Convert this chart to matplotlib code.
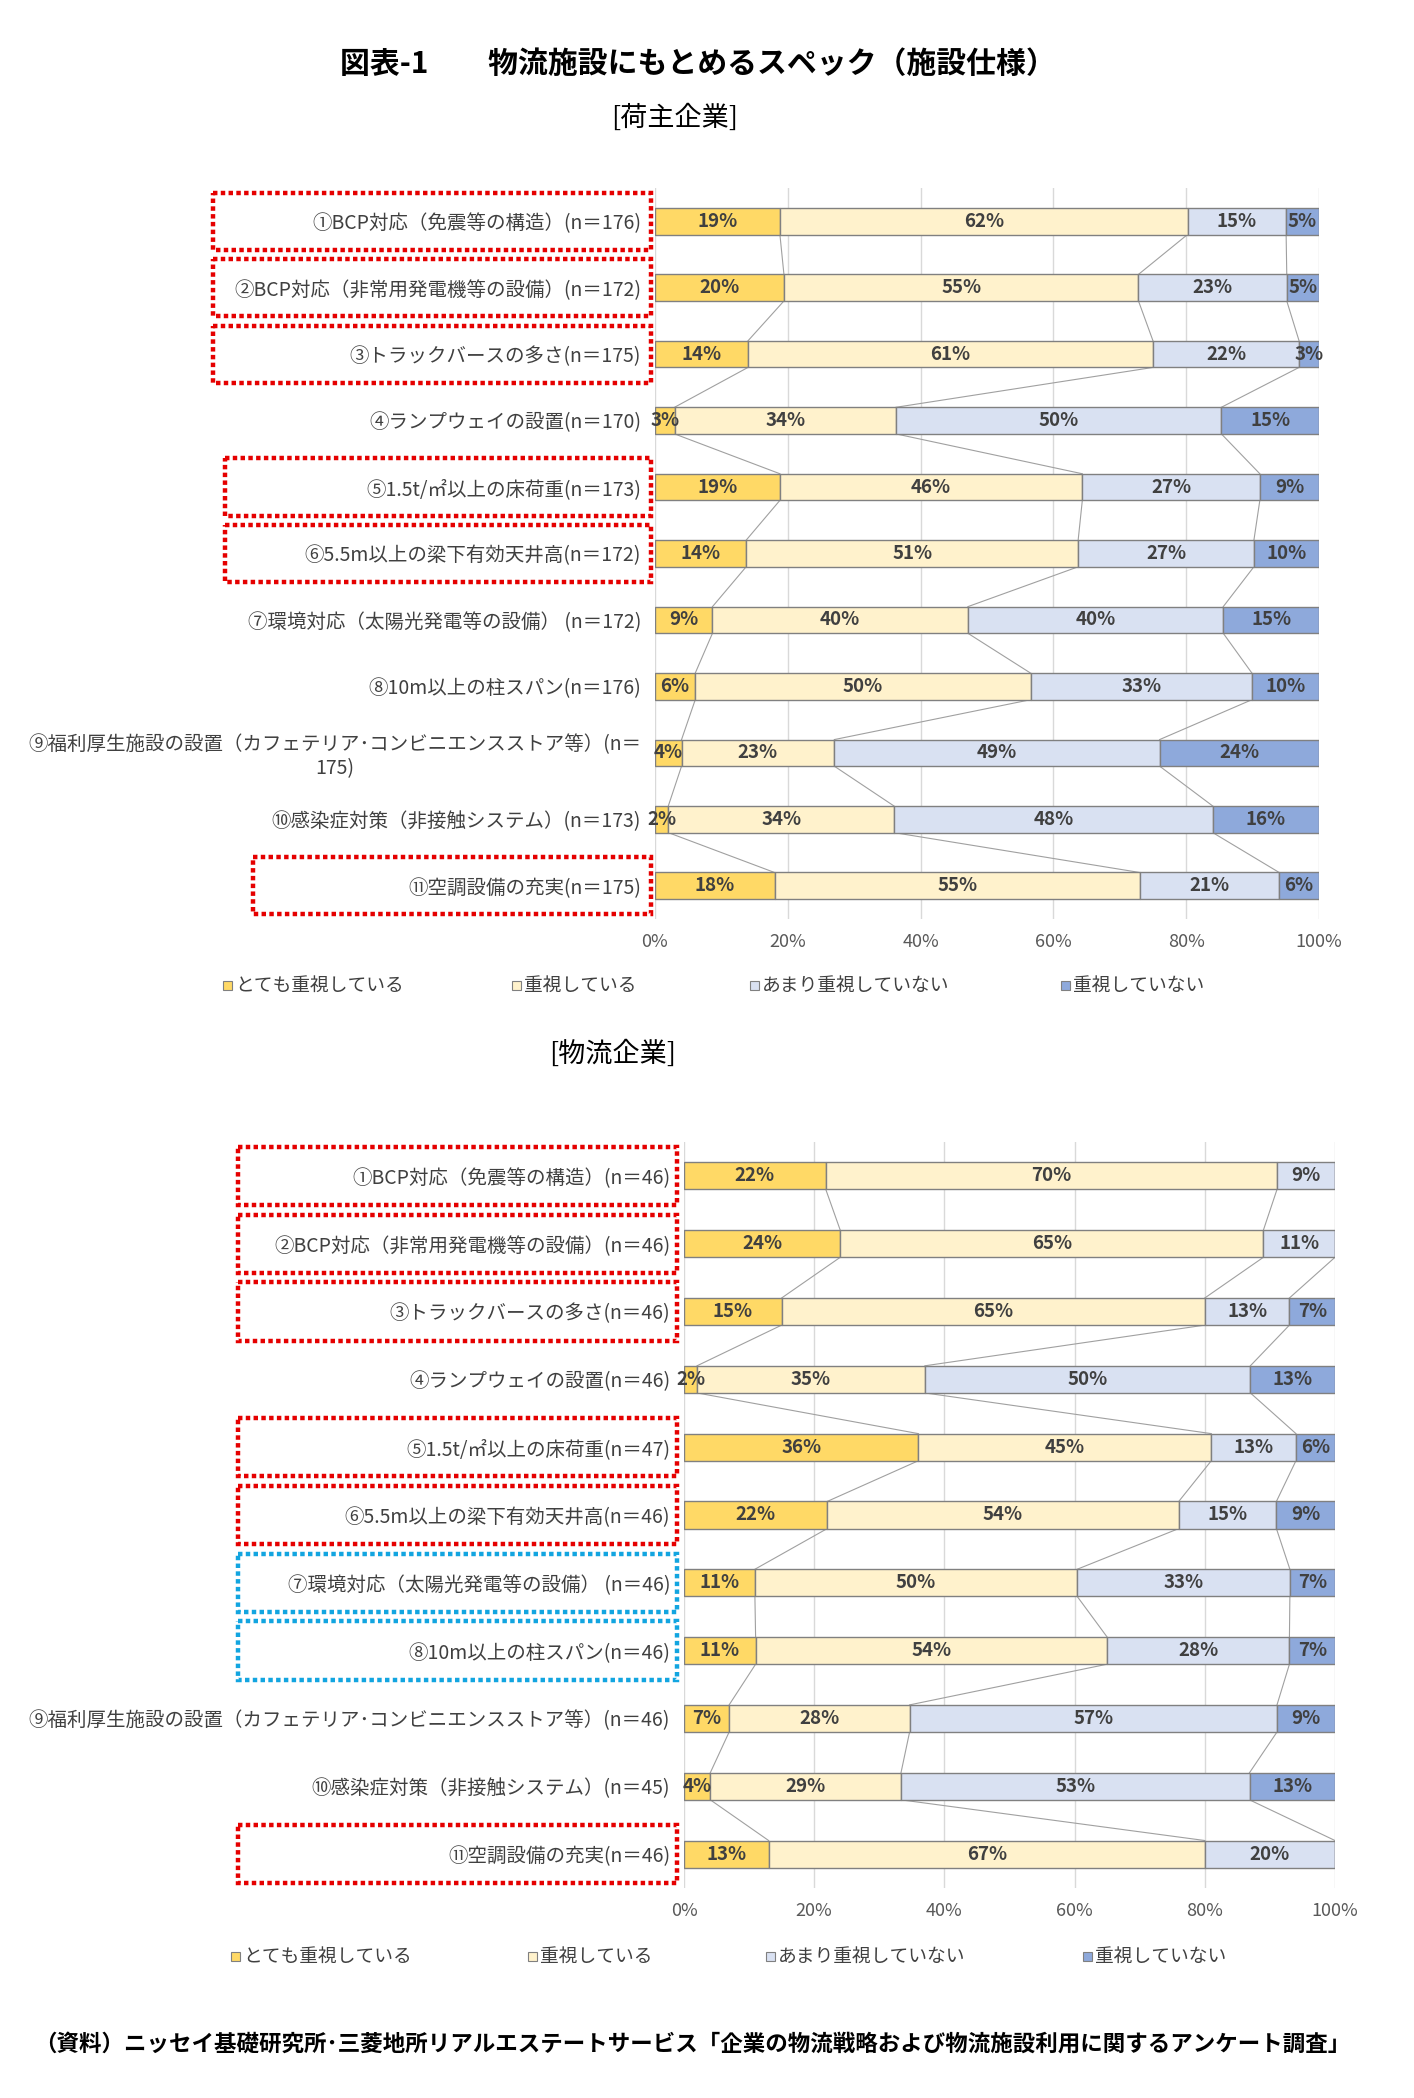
import numpy as np
import matplotlib
matplotlib.use('Agg')
import matplotlib.pyplot as plt
import matplotlib.transforms as mtransforms
from matplotlib.patches import Rectangle

plt.rcParams['font.family'] = ['Noto Sans CJK JP', 'DejaVu Sans']

W, H = 1414, 2098

series_names = ['とても重視している', '重視している', 'あまり重視していない', '重視していない']
series_colors = ['#FFD966', '#FFF2CC', '#D9E1F2', '#8EA9DB']

# [荷主企業]
shipper_labels = [
    '①BCP対応（免震等の構造）(n＝176)',
    '②BCP対応（非常用発電機等の設備）(n＝172)',
    '③トラックバースの多さ(n＝175)',
    '④ランプウェイの設置(n＝170)',
    '⑤1.5t/㎡以上の床荷重(n＝173)',
    '⑥5.5m以上の梁下有効天井高(n＝172)',
    '⑦環境対応（太陽光発電等の設備） (n＝172)',
    '⑧10m以上の柱スパン(n＝176)',
    '⑨福利厚生施設の設置（カフェテリア･コンビニエンスストア等）(n＝\n175)',
    '⑩感染症対策（非接触システム）(n＝173)',
    '⑪空調設備の充実(n＝175)',
]
shipper_very = [19, 20, 14, 3, 19, 14, 9, 6, 4, 2, 18]
shipper_some = [62, 55, 61, 34, 46, 51, 40, 50, 23, 34, 55]
shipper_little = [15, 23, 22, 50, 27, 27, 40, 33, 49, 48, 21]
shipper_none = [5, 5, 3, 15, 9, 10, 15, 10, 24, 16, 6]

# [物流企業]
logistics_labels = [
    '①BCP対応（免震等の構造）(n＝46)',
    '②BCP対応（非常用発電機等の設備）(n＝46)',
    '③トラックバースの多さ(n＝46)',
    '④ランプウェイの設置(n＝46)',
    '⑤1.5t/㎡以上の床荷重(n＝47)',
    '⑥5.5m以上の梁下有効天井高(n＝46)',
    '⑦環境対応（太陽光発電等の設備） (n＝46)',
    '⑧10m以上の柱スパン(n＝46)',
    '⑨福利厚生施設の設置（カフェテリア･コンビニエンスストア等）(n＝46)',
    '⑩感染症対策（非接触システム）(n＝45)',
    '⑪空調設備の充実(n＝46)',
]
logistics_very = [22, 24, 15, 2, 36, 22, 11, 11, 7, 4, 13]
logistics_some = [70, 65, 65, 35, 45, 54, 50, 54, 28, 29, 67]
logistics_little = [9, 11, 13, 50, 13, 15, 33, 28, 57, 53, 20]
logistics_none = [0, 0, 7, 13, 6, 9, 7, 7, 9, 13, 0]

# highlighted items (1-based)
shipper_red = [1, 2, 3, 5, 6, 11]
logistics_red = [1, 2, 3, 5, 6, 11]
logistics_blue = [7, 8]

BAR_H = 0.4
NUM_FONT = ['Liberation Sans Narrow', 'Noto Sans CJK JP']


def fx(x):
    return x / W


def fy(y):
    return 1 - y / H


def draw_chart(ax, labels, cols):
    data = np.array(cols, dtype=float).T
    share = data / data.sum(axis=1, keepdims=True) * 100
    y = np.arange(len(labels))
    left = np.zeros(len(labels))
    for k in range(len(cols)):
        ax.barh(y, share[:, k], left=left, height=BAR_H, color=series_colors[k],
                edgecolor='#808080', linewidth=1.0, zorder=3)
        for i in range(len(labels)):
            if data[i, k] > 0:
                ax.text(left[i] + share[i, k] / 2, y[i], f'{data[i, k]:.0f}%',
                        ha='center', va='center', fontsize=13.5, color='#404040',
                        family=NUM_FONT, fontweight='bold', zorder=4)
        left = left + share[:, k]

    # series lines between neighbouring bars
    cum = np.cumsum(share, axis=1)
    for i in range(len(labels) - 1):
        for k in range(3):
            ax.plot([cum[i, k], cum[i + 1, k]], [y[i] + BAR_H / 2, y[i + 1] - BAR_H / 2],
                    color='#A0A0A0', lw=0.8, zorder=2)

    ax.set_xlim(0, 100)
    ax.set_ylim(len(labels) - 0.5, -0.5)
    ax.set_yticks(y)
    ax.set_yticklabels(labels, fontsize=14, color='#404040')
    ax.set_xticks(range(0, 101, 20))
    ax.set_xticklabels([f'{v}%' for v in range(0, 101, 20)], fontsize=13, color='#595959',
                       family=NUM_FONT)
    ax.tick_params(length=0, pad=10)
    ax.grid(axis='x', color='#D9D9D9', lw=1.0, zorder=0)
    ax.set_axisbelow(True)
    for s in ax.spines.values():
        s.set_visible(False)
    for lab in ax.get_yticklabels():
        if '\n' in lab.get_text():
            lab.set_multialignment('center')


def draw_box(fig, ax, row, x0, x1, color):
    tr = mtransforms.blended_transform_factory(fig.transFigure, ax.transData)
    r = Rectangle((fx(x0), row - 1 - 0.43), fx(x1) - fx(x0), 0.86, transform=tr,
                  fill=False, edgecolor=color, lw=3.2, linestyle=(0, (1, 0.75)),
                  clip_on=False, zorder=5)
    ax.add_patch(r)


def draw_legend(fig, xs, ypx):
    for name, color, x in zip(series_names, series_colors, xs):
        fig.patches.append(Rectangle((fx(x), fy(ypx + 5)), fx(9), 9 / H, transform=fig.transFigure,
                                     facecolor=color, edgecolor='#808080', lw=0.8))
        fig.text(fx(x + 12), fy(ypx), name, fontsize=13.5, color='#404040', ha='left', va='center')


fig = plt.figure(figsize=(W / 100, H / 100), dpi=100)

fig.text(fx(698), fy(64), '図表-1　　物流施設にもとめるスペック（施設仕様）', fontsize=21.5,
         fontweight='bold', ha='center', va='center', color='#000000')
fig.text(fx(675), fy(118), '[荷主企業]', fontsize=19.5, ha='center', va='center', color='#000000')
fig.text(fx(613), fy(1054), '[物流企業]', fontsize=19.5, ha='center', va='center', color='#000000')

ax1 = fig.add_axes([fx(655), fy(919), fx(664), (919 - 188) / H])
draw_chart(ax1, shipper_labels, [shipper_very, shipper_some, shipper_little, shipper_none])
top_box_left = {1: 213, 2: 213, 3: 213, 5: 225, 6: 225, 11: 253}
for r in shipper_red:
    draw_box(fig, ax1, r, top_box_left[r], 651, '#E50000')
draw_legend(fig, [223, 512, 750, 1061], 985)

ax2 = fig.add_axes([fx(684), fy(1888), fx(651), (1888 - 1142) / H])
draw_chart(ax2, logistics_labels, [logistics_very, logistics_some, logistics_little, logistics_none])
for r in logistics_red:
    draw_box(fig, ax2, r, 238, 677, '#E50000')
for r in logistics_blue:
    draw_box(fig, ax2, r, 238, 677, '#12A5E0')
draw_legend(fig, [231, 528, 766, 1083], 1956)

fig.text(fx(692), fy(2044),
         '（資料）ニッセイ基礎研究所･三菱地所リアルエステートサービス「企業の物流戦略および物流施設利用に関するアンケート調査」',
         fontsize=16.2, fontweight='bold', ha='center', va='center', color='#000000')

fig.savefig('out.png', dpi=100)
